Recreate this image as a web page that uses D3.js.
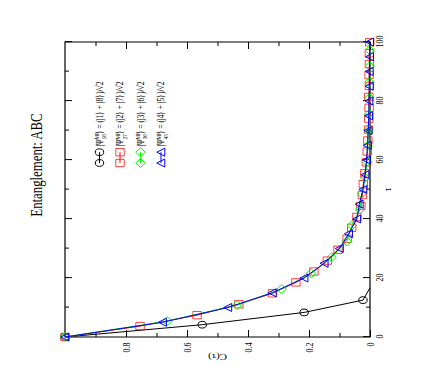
<!DOCTYPE html>
<html>
<head>
<meta charset="utf-8">
<script src="https://cdn.jsdelivr.net/npm/d3@7"></script>
<style>
  body { margin: 0; background: #fff; }
  svg line, svg path, svg rect { vector-effect: non-scaling-stroke; }
</style>
</head>
<body>
<svg id="chart" width="436" height="382"></svg>
<script>
// values (tau on the long axis, C(tau) on the other)
var blackTau = [0, 4.17, 8.33, 12.5, 16.67];
var blackC   = [1, 0.55, 0.216, 0.023, 0];

var redTau = [0, 3.7, 7.4, 11.1, 14.8, 18.5, 22.2, 25.9, 29.6, 33.3, 37.0, 40.7, 44.4, 48.1, 51.8,
              55.5, 59.2, 62.9, 66.6, 70.3, 74.0, 77.7, 81.4, 85.1, 88.8, 92.5, 96.2, 99.9];
var redC   = [1, 0.754, 0.567, 0.43, 0.32, 0.243, 0.184, 0.14, 0.105, 0.075, 0.06, 0.043, 0.03, 0.025, 0.022,
              0.017, 0.012, 0.009, 0.007, 0.005, 0.004, 0.003, 0.004, 0.002, 0.003, 0.002, 0.002, 0.001];

var greenTau = [0, 5.4, 10.8, 16.2, 21.6, 27.0, 32.4, 37.8, 43.2, 48.6, 54.0, 59.4, 64.8, 70.2, 75.6,
                81.0, 86.4, 91.8, 97.2];
var greenC   = [1, 0.665, 0.436, 0.29, 0.193, 0.126, 0.076, 0.06, 0.033, 0.027, 0.016, 0.01, 0.007, 0.005, 0.003,
                0.002, 0.002, 0.001, 0.001];

var blueTau = [0, 5, 10, 15, 20, 25, 30, 35, 40, 45, 50, 55, 60, 65, 70, 75, 80, 85, 90, 95, 100];
var blueC   = [1, 0.68, 0.466, 0.32, 0.216, 0.15, 0.1, 0.07, 0.043, 0.035, 0.023, 0.016, 0.011, 0.008, 0.006,
               0.004, 0.003, 0.002, 0.002, 0.001, 0.001];

var tauMajor = [0, 20, 40, 60, 80, 100];
var tauMinor = [10, 30, 50, 70, 90];
var cMajor = [0, 0.2, 0.4, 0.6, 0.8];
var cMinor = [0.1, 0.3, 0.5, 0.7, 0.9];

var seriesNames = ["18", "27", "36", "45"];
var seriesKets  = [["1", "8"], ["2", "7"], ["3", "6"], ["4", "5"]];
var seriesColors = ["#000000", "#ff0000", "#00ff00", "#0000ff"];
var seriesShapes = ["circle", "square", "diamond", "triangle"];

// the whole plot is drawn sideways and a little squeezed along tau
var SX = 0.8;
var W = 295 / SX, H = 305;
var svg = d3.select("#chart").attr("font-family", "'Liberation Serif', 'Times New Roman', serif");
svg.append("rect").attr("width", 436).attr("height", 382).attr("fill", "#fff");

var g = svg.append("g").attr("transform", "translate(65,337) rotate(-90) scale(" + SX + ",1)");

var x = d3.scaleLinear().domain([0, 100]).range([0, W]);
var y = d3.scaleLinear().domain([0, 1]).range([H, 0]);

function styleAxis(sel){
  sel.select(".domain").remove();
  sel.attr("font-family", null).attr("font-size", 10);
  sel.selectAll("line").attr("stroke", "#000");
  sel.selectAll("text").attr("fill", "#000");
}

// tau ticks (bottom = C 0, top = C 1)
g.append("g").attr("transform", "translate(0," + H + ")")
  .call(d3.axisBottom(x).tickValues(tauMajor).tickSizeInner(-7).tickSizeOuter(0).tickPadding(6).tickFormat(d3.format("d")))
  .call(styleAxis);
g.append("g").attr("transform", "translate(0," + H + ")")
  .call(d3.axisBottom(x).tickValues(tauMinor).tickSizeInner(-4).tickSizeOuter(0).tickFormat(""))
  .call(styleAxis);
g.append("g")
  .call(d3.axisTop(x).tickValues(tauMajor).tickSizeInner(-7).tickSizeOuter(0).tickFormat(""))
  .call(styleAxis);
g.append("g")
  .call(d3.axisTop(x).tickValues(tauMinor).tickSizeInner(-4).tickSizeOuter(0).tickFormat(""))
  .call(styleAxis);

// C ticks
var cFmt = function(d){ return d === 0 ? "0" : d3.format(".1f")(d); };
g.append("g")
  .call(d3.axisLeft(y).tickValues(cMajor).tickSizeInner(-7 / SX).tickSizeOuter(0).tickPadding(7).tickFormat(cFmt))
  .call(styleAxis);
g.append("g")
  .call(d3.axisLeft(y).tickValues(cMinor).tickSizeInner(-4 / SX).tickSizeOuter(0).tickFormat(""))
  .call(styleAxis);
g.append("g").attr("transform", "translate(" + W + ",0)")
  .call(d3.axisRight(y).tickValues(cMajor).tickSizeInner(-7 / SX).tickSizeOuter(0).tickFormat(""))
  .call(styleAxis);
g.append("g").attr("transform", "translate(" + W + ",0)")
  .call(d3.axisRight(y).tickValues(cMinor).tickSizeInner(-4 / SX).tickSizeOuter(0).tickFormat(""))
  .call(styleAxis);

g.append("rect").attr("width", W).attr("height", H)
  .attr("fill", "none").attr("stroke", "#000").attr("stroke-width", 1.2);

function symbolPath(shape){
  if (shape === "circle") return "M4.2,0A4.2,4.2 0 1,1 -4.2,0A4.2,4.2 0 1,1 4.2,0Z";
  if (shape === "square") return "M-4.6,-4.2H4.6V4.2H-4.6Z";
  if (shape === "diamond") return "M0,-4.8L5.5,0L0,4.8L-5.5,0Z";
  return "M-5,3.8L0,-4.2L5,3.8Z";
}

var series = [
  {tau: blackTau, c: blackC},
  {tau: redTau, c: redC},
  {tau: greenTau, c: greenC},
  {tau: blueTau, c: blueC}
];

var line = d3.line().x(function(d){ return x(d[0]); }).y(function(d){ return y(d[1]); });

series.forEach(function(s, i){
  var pts = s.tau.map(function(t, k){ return [t, s.c[k]]; });
  var sg = g.append("g");
  sg.append("path").datum(pts).attr("d", line)
    .attr("fill", "none").attr("stroke", seriesColors[i]).attr("stroke-width", 1);
  sg.selectAll("path.mk").data(pts.filter(function(d){ return d[1] > 0; })).enter()
    .append("path").attr("class", "mk")
    .attr("transform", function(d){ return "translate(" + x(d[0]) + "," + y(d[1]) + ")"; })
    .attr("d", symbolPath(seriesShapes[i]))
    .attr("fill", "none").attr("stroke", seriesColors[i]).attr("stroke-width", 1)
    .attr("stroke-opacity", i === 1 ? 0.75 : 1);
});

// legend
var leg = g.append("g");
seriesNames.forEach(function(n, i){
  var ly = 34.5 + i * 20.5;
  var row = leg.append("g");
  row.append("line").attr("x1", 217.5).attr("x2", 231).attr("y1", ly).attr("y2", ly)
    .attr("stroke", seriesColors[i]);
  [217.5, 231].forEach(function(px){
    row.append("path").attr("transform", "translate(" + px + "," + ly + ")")
      .attr("d", symbolPath(seriesShapes[i]))
      .attr("fill", "none").attr("stroke", seriesColors[i])
      .attr("stroke-opacity", i === 1 ? 0.75 : 1);
  });
  var t = row.append("text").attr("x", 238).attr("y", ly + 3.4).attr("font-size", 9.6).attr("fill", "#000");
  t.append("tspan").text("|\u03A8");
  t.append("tspan").attr("font-size", 6.3).attr("dy", -3.7).text("MP");
  t.append("tspan").attr("font-size", 6.3).attr("dx", -9).attr("dy", 6.9).text(n);
  t.append("tspan").attr("dy", -3.2).text("\u27E9 = (|" + seriesKets[i][0] + "\u27E9 + |" + seriesKets[i][1] + "\u27E9)/\u221A2");
});

// titles
g.append("text").attr("x", 215).attr("y", -23).attr("text-anchor", "middle")
  .attr("font-size", 16).text("Entanglement: ABC");
g.append("text").attr("transform", "translate(-21," + (H / 2) + ") rotate(-90)")
  .attr("text-anchor", "middle").attr("font-size", 11).text("C(\u03C4)");
g.append("text").attr("x", W / 2).attr("y", 326).attr("text-anchor", "middle")
  .attr("font-size", 11).text("\u03C4");
</script>
</body>
</html>
